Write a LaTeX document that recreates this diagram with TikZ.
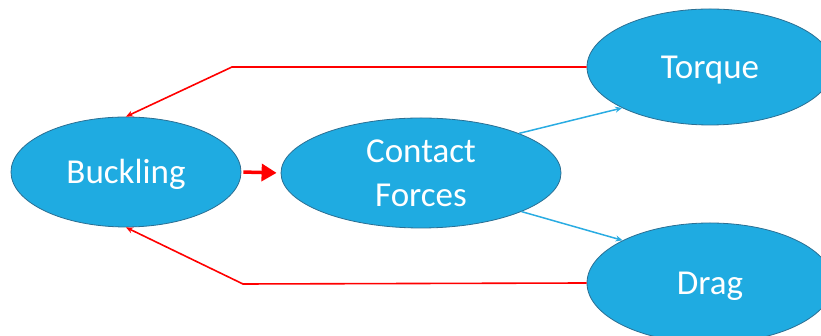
\documentclass[tikz,border=0pt]{standalone}
\usepackage{fontspec}
\setmainfont{Carlito}
\usetikzlibrary{shapes.geometric,arrows.meta}
\definecolor{bubblefill}{HTML}{1FABE1}
\definecolor{bubbleline}{HTML}{2B6F93}
\definecolor{feedred}{HTML}{FF0000}
\definecolor{linkblue}{HTML}{2AACE2}

\begin{document}
\begin{tikzpicture}[x=1pt, y=1pt,
  bubble/.style={ellipse, fill=bubblefill, draw=bubbleline, line width=0.8pt, inner sep=0pt, text=white, align=center, font=\fontsize{35}{44}\selectfont},
  capmid/.style={text height=23pt, text depth=0pt},
  feedback/.style={-{Stealth[length=7pt,width=6pt]}, line width=1.6pt, color=feedred},
  link/.style={-{Stealth[length=7pt,width=6pt]}, line width=1.5pt, color=linkblue}]
\clip (0,0) rectangle (821,336);
\node[bubble, capmid, minimum width=230, minimum height=110] (buck) at (126,164) {Buckling};
\node[bubble, minimum width=280, minimum height=110] (cont) at (421,163) {Contact\\Forces};
\node[bubble, capmid, minimum width=246, minimum height=116] (torq) at (710,269) {Torque};
\node[bubble, capmid, minimum width=246, minimum height=120] (drag) at (710,53) {Drag};
\coordinate (tbend) at (232,269);
\coordinate (dbend) at (243,52);
% red feedback loops back to buckling
\draw[feedback] (torq.west) -- (tbend) -- (buck.north);
\draw[feedback] (drag.west) -- (dbend) -- (buck.south);
\draw[-{Triangle[length=15pt,width=17pt]}, line width=3.5pt, color=feedred, shorten <=2pt, shorten >=4pt] (buck.east) -- (cont.west);
% contact forces feed torque and drag
\draw[link] (cont.22) -- (torq.205);
\draw[link] (cont.339) -- (drag.154);
\end{tikzpicture}
\end{document}
